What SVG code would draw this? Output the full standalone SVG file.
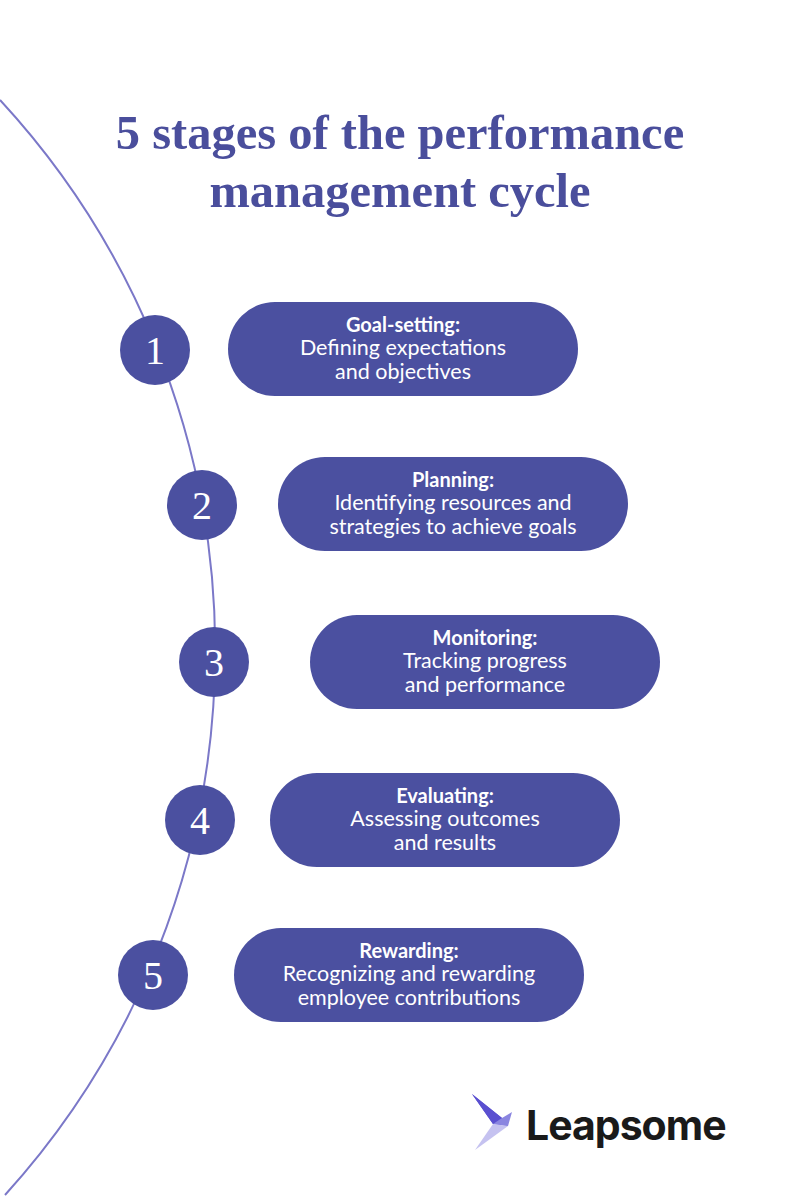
<svg xmlns="http://www.w3.org/2000/svg" width="800" height="1200" viewBox="0 0 800 1200">
<style>
.pill{fill:#4b50a0}
.num{fill:#4b50a0}
.nt{font-family:"Liberation Serif",serif;font-size:40px;fill:#fff;text-anchor:middle}
.h{font-family:Lato,"Open Sans",sans-serif;font-weight:bold;font-size:20px;fill:#fff;text-anchor:middle}
.b{font-family:Lato,"Open Sans",sans-serif;font-size:21.5px;fill:#fff;text-anchor:middle}
.title{font-family:"Liberation Serif",serif;font-weight:bold;font-size:48.5px;fill:#4a4e9c;text-anchor:middle}
</style>
<rect width="800" height="1200" fill="#fff"/>
<text class="title" x="400" y="149">5 stages of the performance</text>
<text class="title" x="400" y="207">management cycle</text>
<g id="connectors"><path d="M0,100 A811,811 0 0 1 5,1195" fill="none" stroke="#7b78c8" stroke-width="2"/></g>
<g id="n1"><circle class="num" cx="155" cy="350" r="35"/><text class="nt" x="155" y="364">1</text>
<rect class="pill" x="228" y="302" width="350" height="94" rx="47"/>
<text class="h" x="403" y="332">Goal-setting:</text><text class="b" x="403" y="355">Defining expectations</text><text class="b" x="403" y="379">and objectives</text></g>
<g id="n2"><circle class="num" cx="202" cy="505" r="35"/><text class="nt" x="202" y="519">2</text>
<rect class="pill" x="278" y="457" width="350" height="94" rx="47"/>
<text class="h" x="453" y="487">Planning:</text><text class="b" x="453" y="510">Identifying resources and</text><text class="b" x="453" y="534">strategies to achieve goals</text></g>
<g id="n3"><circle class="num" cx="214" cy="662" r="35"/><text class="nt" x="214" y="676">3</text>
<rect class="pill" x="310" y="615" width="350" height="94" rx="47"/>
<text class="h" x="485" y="645">Monitoring:</text><text class="b" x="485" y="668">Tracking progress</text><text class="b" x="485" y="692">and performance</text></g>
<g id="n4"><circle class="num" cx="200" cy="820" r="35"/><text class="nt" x="200" y="834">4</text>
<rect class="pill" x="270" y="773" width="350" height="94" rx="47"/>
<text class="h" x="445" y="803">Evaluating:</text><text class="b" x="445" y="826">Assessing outcomes</text><text class="b" x="445" y="850">and results</text></g>
<g id="n5"><circle class="num" cx="153" cy="975" r="35"/><text class="nt" x="153" y="989">5</text>
<rect class="pill" x="234" y="928" width="350" height="94" rx="47"/>
<text class="h" x="409" y="958">Rewarding:</text><text class="b" x="409" y="981">Recognizing and rewarding</text><text class="b" x="409" y="1005">employee contributions</text></g>
<g id="logo">
<polygon points="472,1094 502,1118 493,1124" fill="#5a4fd0"/>
<polygon points="472,1094 493,1124 508,1126 502,1118" fill="#5a4fd0"/>
<polygon points="493,1124 508,1126 512,1112 502,1118" fill="#8a85e0"/>
<polygon points="493,1124 508,1126 475,1150" fill="#c5c2f0"/>
<text x="526" y="1140" font-family="Inter,'Liberation Sans',sans-serif" font-weight="bold" font-size="41" fill="#1a1a1a" letter-spacing="-1">Leapsome</text>
</g>
</svg>
